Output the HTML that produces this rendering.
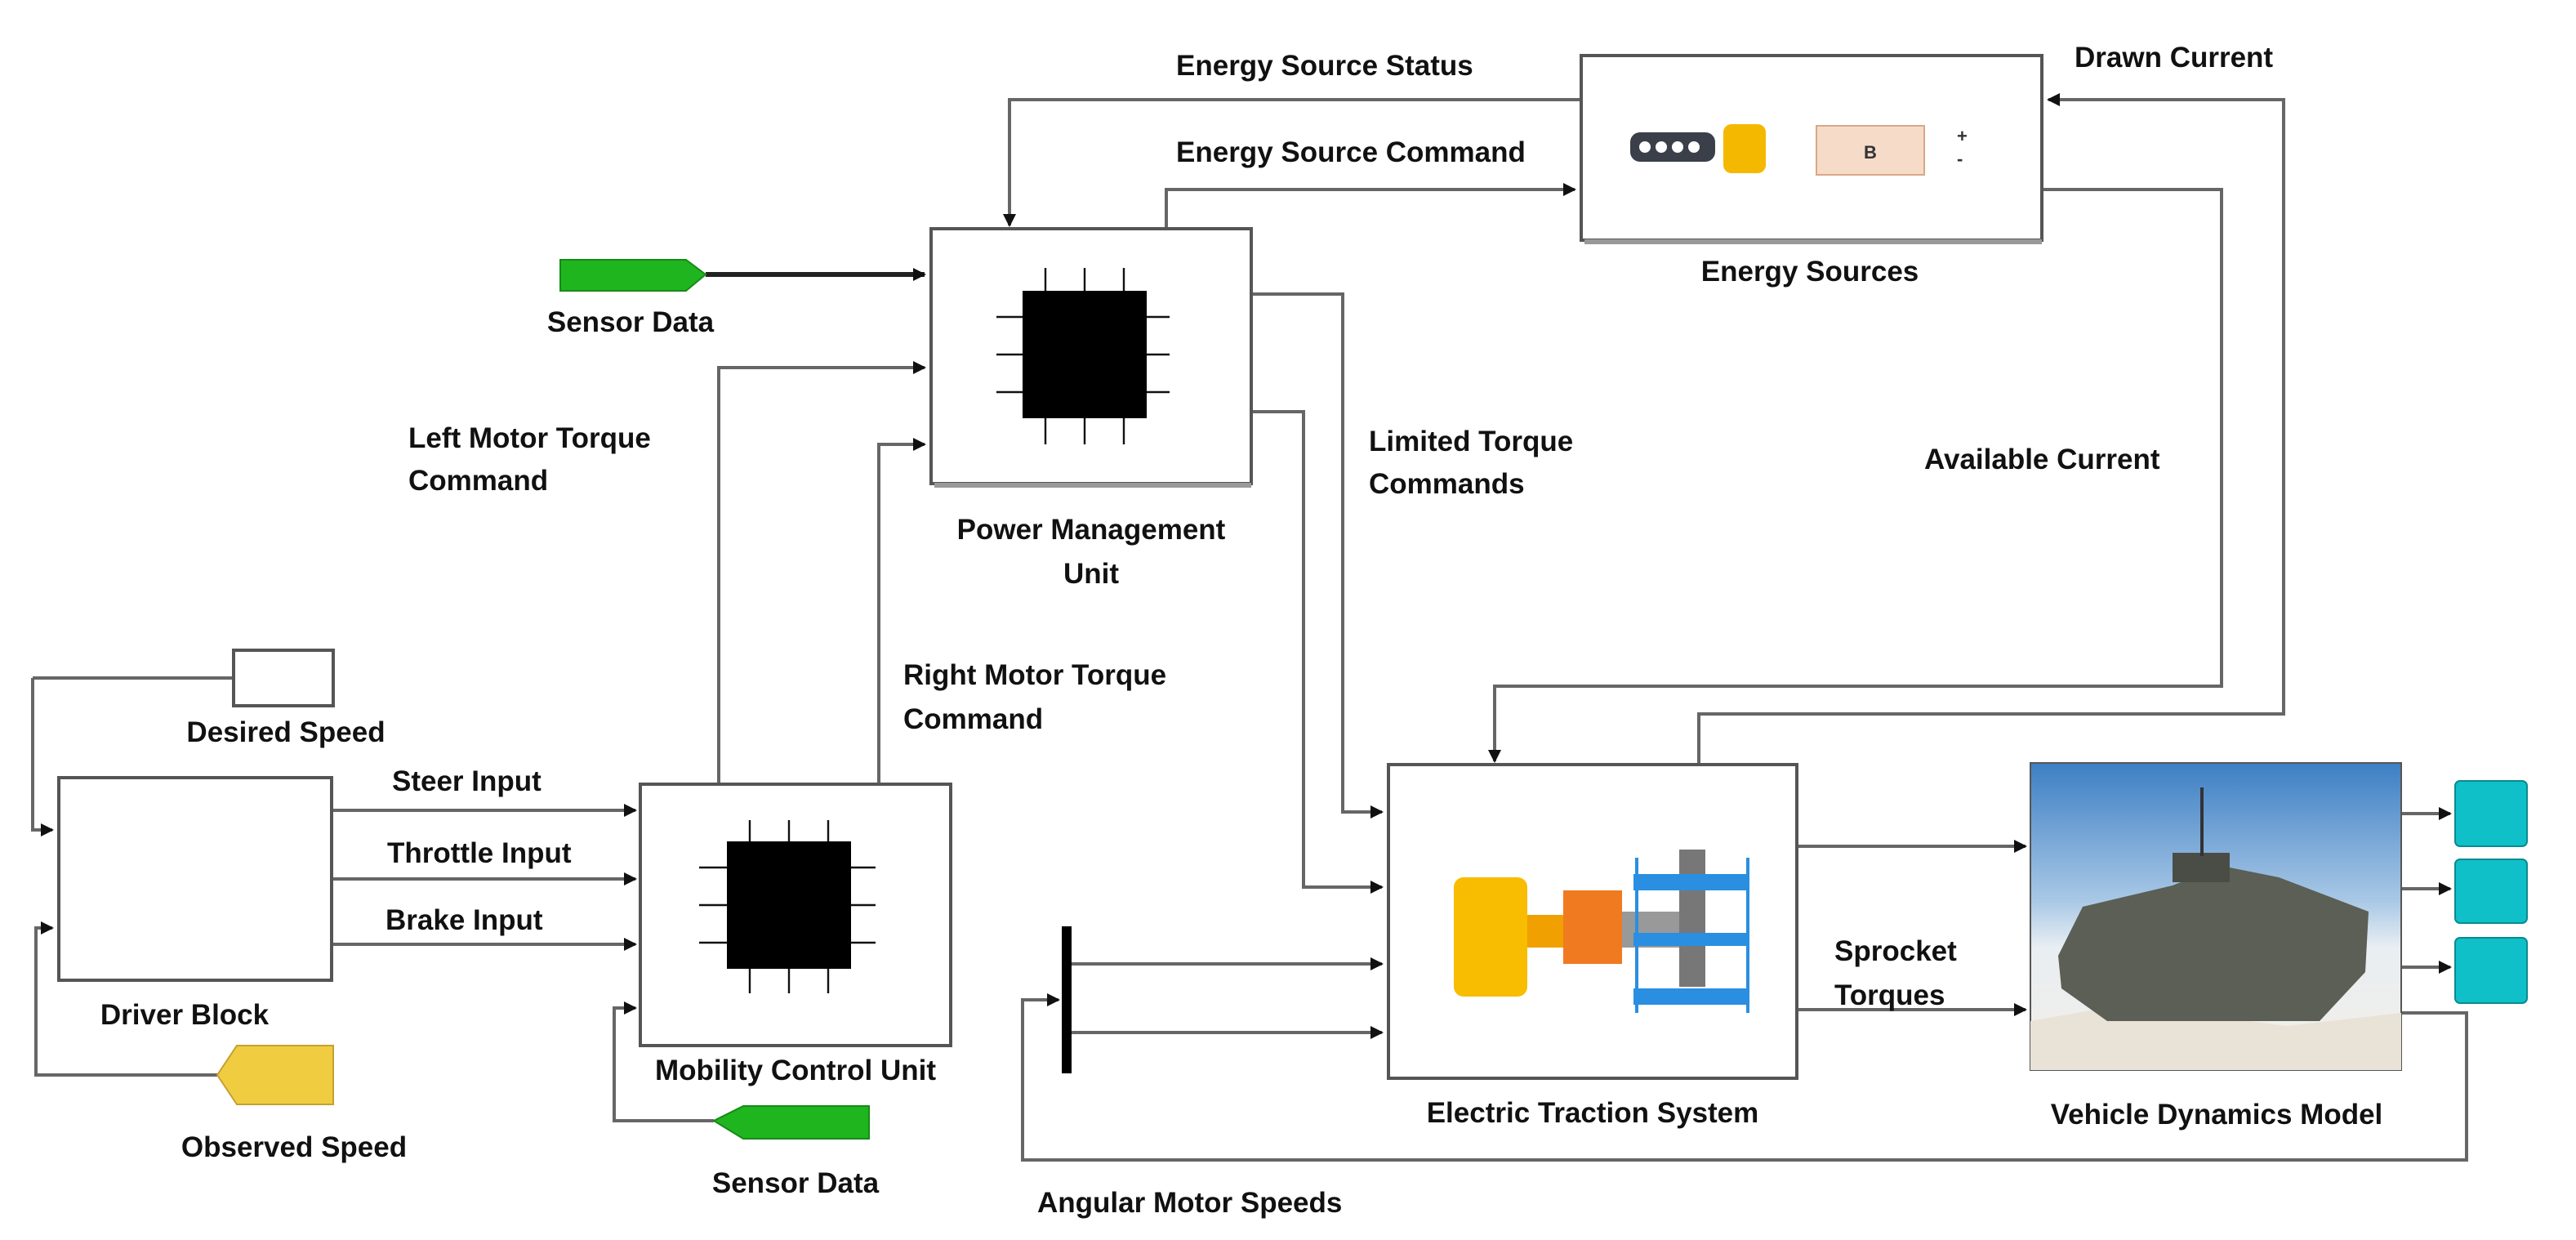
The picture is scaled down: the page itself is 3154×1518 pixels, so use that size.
<!DOCTYPE html>
<html><head><meta charset="utf-8"><style>html,body{margin:0;padding:0;background:#fff}svg{display:block}</style></head>
<body>
<svg width="3154" height="1518" viewBox="0 0 1577 759" xmlns="http://www.w3.org/2000/svg" font-family="Liberation Sans, sans-serif" font-weight="bold" font-size="17.5">
<defs>
<marker id="a" markerWidth="8" markerHeight="8" refX="7" refY="4" orient="auto" markerUnits="userSpaceOnUse"><path d="M0,0 L8,4 L0,8 z" fill="#111"/></marker>
<linearGradient id="sky" x1="0" y1="0" x2="0" y2="1"><stop offset="0" stop-color="#3d7fc4"/><stop offset="0.45" stop-color="#a9c8e6"/><stop offset="0.6" stop-color="#e8eef2"/><stop offset="1" stop-color="#f3efe8"/></linearGradient>
</defs>
<g fill="none" stroke="#666" stroke-width="2">
<polyline points="968,61 618,61 618,138" marker-end="url(#a)"/>
<polyline points="714,140 714,116 964,116" marker-end="url(#a)"/>
<polyline points="1040,468 1040,437 1398,437 1398,61 1254,61" marker-end="url(#a)"/>
<polyline points="1250,116 1360,116 1360,420 915,420 915,466" marker-end="url(#a)"/>
<polyline points="432,168 566,168" stroke="#222" stroke-width="3" marker-end="url(#a)"/>
<polyline points="440,480 440,225 566,225" marker-end="url(#a)"/>
<polyline points="538,480 538,272 566,272" marker-end="url(#a)"/>
<polyline points="766,180 822,180 822,497 846,497" marker-end="url(#a)"/>
<polyline points="766,252 798,252 798,543 846,543" marker-end="url(#a)"/>
<polyline points="20,415 143,415" />
<polyline points="20,415 20,508 32,508" marker-end="url(#a)"/>
<polyline points="133,658 22,658 22,568 32,568" marker-end="url(#a)"/>
<polyline points="203,496 389,496" marker-end="url(#a)"/>
<polyline points="203,538 389,538" marker-end="url(#a)"/>
<polyline points="203,578 389,578" marker-end="url(#a)"/>
<polyline points="437,686 376,686 376,617 389,617" marker-end="url(#a)"/>
<polyline points="656,590 846,590" marker-end="url(#a)"/>
<polyline points="656,632 846,632" marker-end="url(#a)"/>
<polyline points="1470,620 1510,620 1510,710 626,710 626,612 648,612" marker-end="url(#a)"/>
<polyline points="1100,518 1240,518" marker-end="url(#a)"/>
<polyline points="1100,618 1240,618" marker-end="url(#a)"/>
<polyline points="1470,498 1500,498" marker-end="url(#a)"/>
<polyline points="1470,544 1500,544" marker-end="url(#a)"/>
<polyline points="1470,592 1500,592" marker-end="url(#a)"/>
</g>
<g fill="#fff" stroke="#555" stroke-width="2">
<rect x="968" y="34" width="282" height="113"/>
<rect x="570" y="140" width="196" height="156"/>
<rect x="392" y="480" width="190" height="160"/>
<rect x="36" y="476" width="167" height="124"/>
<rect x="143" y="398" width="61" height="34"/>
<rect x="850" y="468" width="250" height="192"/>
</g>
<line x1="970" y1="148" x2="1250" y2="148" stroke="#999" stroke-width="3"/>
<line x1="572" y1="297" x2="766" y2="297" stroke="#999" stroke-width="3"/>
<rect x="998" y="81" width="52" height="18" rx="6" fill="#3a3f4a"/>
<g fill="#fff"><circle cx="1007" cy="90" r="3.5"/><circle cx="1017" cy="90" r="3.5"/><circle cx="1027" cy="90" r="3.5"/><circle cx="1037" cy="90" r="3.5"/></g>
<rect x="1055" y="76" width="26" height="30" rx="5" fill="#f5b800"/>
<rect x="1112" y="77" width="66" height="30" fill="#f6dcc8" stroke="#d9a888"/>
<text x="1145" y="97" font-size="11" text-anchor="middle" fill="#333">B</text>
<text x="1198" y="87" font-size="11" fill="#333">+</text>
<text x="1198" y="101" font-size="11" fill="#333">-</text>
<g stroke="#111" stroke-width="1.2">
<line x1="640" y1="164" x2="640" y2="272"/><line x1="664" y1="164" x2="664" y2="272"/><line x1="688" y1="164" x2="688" y2="272"/>
<line x1="610" y1="194" x2="716" y2="194"/><line x1="610" y1="217" x2="716" y2="217"/><line x1="610" y1="240" x2="716" y2="240"/>
<line x1="459" y1="502" x2="459" y2="608"/><line x1="483" y1="502" x2="483" y2="608"/><line x1="507" y1="502" x2="507" y2="608"/>
<line x1="428" y1="531" x2="536" y2="531"/><line x1="428" y1="554" x2="536" y2="554"/><line x1="428" y1="577" x2="536" y2="577"/>
</g>
<rect x="626" y="178" width="76" height="78" fill="#000"/>
<rect x="445" y="515" width="76" height="78" fill="#000"/>
<polygon points="343,159 420,159 432,168 420,178 343,178" fill="#1fb51f" stroke="#178a17"/>
<polygon points="532,677 455,677 437,686 455,697 532,697" fill="#1fb51f" stroke="#178a17"/>
<polygon points="204,640 145,640 133,658 145,676 204,676" fill="#f0cc40" stroke="#c4a030"/>
<rect x="650" y="567" width="6" height="90" fill="#000"/>
<rect x="890" y="537" width="45" height="73" rx="6" fill="#f8bc00"/>
<rect x="935" y="560" width="22" height="20" fill="#f0a000"/>
<rect x="957" y="545" width="36" height="45" fill="#f07a20"/>
<rect x="993" y="558" width="35" height="22" fill="#999"/>
<rect x="1028" y="520" width="16" height="84" fill="#777"/>
<g fill="#2a8fe0"><rect x="1000" y="535" width="70" height="10"/><rect x="1000" y="571" width="70" height="8"/><rect x="1000" y="605" width="70" height="10"/></g>
<line x1="1002" y1="525" x2="1002" y2="620" stroke="#2a8fe0" stroke-width="2"/>
<line x1="1070" y1="525" x2="1070" y2="620" stroke="#2a8fe0" stroke-width="2"/>
<rect x="1243" y="467" width="227" height="188" fill="url(#sky)" stroke="#555"/>
<polygon points="1243,625 1300,615 1400,628 1470,620 1470,655 1243,655" fill="#e9e2d6"/>
<polygon points="1260,585 1275,555 1330,542 1360,530 1395,537 1450,558 1448,595 1420,625 1290,625 1262,605" fill="#5b5f55"/>
<rect x="1330" y="522" width="35" height="18" fill="#4a4d45"/>
<line x1="1348" y1="482" x2="1348" y2="524" stroke="#333" stroke-width="2"/>
<g fill="#10c0c8" stroke="#0a8a90"><rect x="1503" y="478" width="44" height="40" rx="3"/><rect x="1503" y="526" width="44" height="39" rx="3"/><rect x="1503" y="574" width="44" height="40" rx="3"/></g>
<g fill="#111">
<text x="720" y="46">Energy Source Status</text>
<text x="720" y="99">Energy Source Command</text>
<text x="1270" y="41">Drawn Current</text>
<text x="1108" y="172" text-anchor="middle">Energy Sources</text>
<text x="386" y="203" text-anchor="middle">Sensor Data</text>
<text x="250" y="274">Left Motor Torque</text>
<text x="250" y="300">Command</text>
<text x="668" y="330" text-anchor="middle">Power Management</text>
<text x="668" y="357" text-anchor="middle">Unit</text>
<text x="838" y="276">Limited Torque</text>
<text x="838" y="302">Commands</text>
<text x="1178" y="287">Available Current</text>
<text x="553" y="419">Right Motor Torque</text>
<text x="553" y="446">Command</text>
<text x="175" y="454" text-anchor="middle">Desired Speed</text>
<text x="240" y="484">Steer Input</text>
<text x="237" y="528">Throttle Input</text>
<text x="236" y="569">Brake Input</text>
<text x="113" y="627" text-anchor="middle">Driver Block</text>
<text x="487" y="661" text-anchor="middle">Mobility Control Unit</text>
<text x="180" y="708" text-anchor="middle">Observed Speed</text>
<text x="487" y="730" text-anchor="middle">Sensor Data</text>
<text x="635" y="742">Angular Motor Speeds</text>
<text x="975" y="687" text-anchor="middle">Electric Traction System</text>
<text x="1357" y="688" text-anchor="middle">Vehicle Dynamics Model</text>
<text x="1123" y="588">Sprocket</text>
<text x="1123" y="615">Torques</text>
</g>
</svg>
</body></html>
